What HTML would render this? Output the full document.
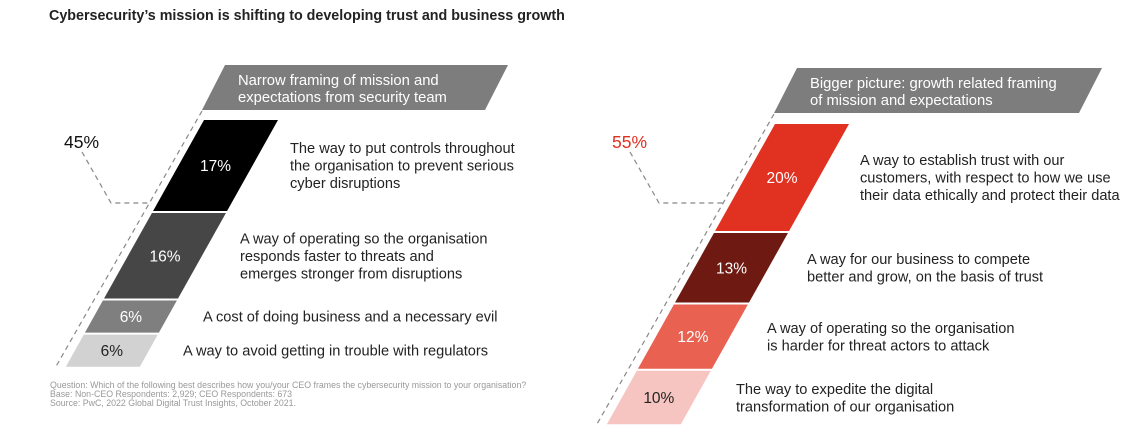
<!DOCTYPE html>
<html><head><meta charset="utf-8"><style>
body{margin:0;background:#fff;width:1143px;height:442px;overflow:hidden}
svg{display:block;font-family:"Liberation Sans",Arial,sans-serif}
</style></head><body>
<svg id="c" width="1143" height="442">
<text x="49" y="20" font-size="14.3" font-weight="bold" fill="#222">Cybersecurity’s mission is shifting to developing trust and business growth</text>
<g fill="#999" font-size="8.8">
<text x="50" y="388">Question: Which of the following best describes how you/your CEO frames the cybersecurity mission to your organisation?</text>
<text x="50" y="397">Base: Non-CEO Respondents: 2,929; CEO Respondents: 673</text>
<text x="50" y="406">Source: PwC, 2022 Global Digital Trust Insights, October 2021.</text>
</g>
</svg>
<script>
const leftValues=[17,16,6,6];
const leftLabels=["17%","16%","6%","6%"];
const leftTotal="45%";
const leftTexts=[["The way to put controls throughout","the organisation to prevent serious","cyber disruptions"],["A way of operating so the organisation","responds faster to threats and","emerges stronger from disruptions"],["A cost of doing business and a necessary evil"],["A way to avoid getting in trouble with regulators"]];
const rightValues=[20,13,12,10];
const rightLabels=["20%","13%","12%","10%"];
const rightTotal="55%";
const rightTexts=[["A way to establish trust with our","customers, with respect to how we use","their data ethically and protect their data"],["A way for our business to compete","better and grow, on the basis of trust"],["A way of operating so the organisation","is harder for threat actors to attack"],["The way to expedite the digital","transformation of our organisation"]];

const svg=document.getElementById('c');
const NS='http://www.w3.org/2000/svg';
function mk(t,a){const e=document.createElementNS(NS,t);for(const k in a)e.setAttribute(k,a[k]);svg.appendChild(e);return e;}
const S=0.56, PX=5.35, W=74, GAP=2;
function drawPanel(cfg){
  const b=mk('polygon',{points:`${cfg.bx+23},${cfg.by} ${cfg.bx+23+cfg.bw},${cfg.by} ${cfg.bx+cfg.bw},${cfg.by+45} ${cfg.bx},${cfg.by+45}`,fill:'#7d7d7d'});
  
  
  cfg.banner.forEach((l,i)=>{const t=mk('text',{x:cfg.bx+36,y:cfg.by+20+i*17,'font-size':14.8,fill:'#fff'});t.textContent=l;
    
    });
  let y=cfg.top;const x0=cfg.x0;let bottom=y;
  cfg.values.forEach((v,i)=>{
    const h=v*PX;const lt=x0-S*(y-cfg.top), lb=x0-S*(y+h-cfg.top);
    const p=mk('polygon',{points:`${lt},${y} ${lt+W},${y} ${lb+W},${y+h} ${lb},${y+h}`,fill:cfg.colors[i]});
    
    
    const cx=(lt+lb)/2+W/2, cy=y+h/2;
    const t=mk('text',{x:cx,y:cy+5.5,'font-size':15.5,'text-anchor':'middle',fill:cfg.tcol[i]});t.textContent=cfg.labels[i];
    
    
    const lines=cfg.texts[i];const n=lines.length;
    lines.forEach((l,j)=>{const tt=mk('text',{x:cfg.tx[i],y:cy+5+(j-(n-1)/2)*17.5,'font-size':14.6,fill:'#222'});tt.textContent=l;
      
      });
    y+=h+GAP;bottom=y;
  });
  const dl=mk('line',{x1:cfg.bx,y1:cfg.by+46,x2:cfg.x0-S*(bottom-cfg.top)-10,y2:bottom,stroke:'#888','stroke-dasharray':'5,4','stroke-width':1.2});
  
  
  const bx=cfg.bx-S*(203-cfg.by-46);
  const br=mk('polyline',{points:`${cfg.lx+18},152 ${cfg.lx+47},203 ${bx},203`,fill:'none',stroke:'#888','stroke-dasharray':'5,4','stroke-width':1.2});
  
  
  const tl=mk('text',{x:cfg.lx,y:148,'font-size':17.5,fill:cfg.totalCol});tl.textContent=cfg.total;
  
  
}
drawPanel({name:'narrow',bx:202,by:65,bw:283,banner:['Narrow framing of mission and','expectations from security team'],
  top:120,x0:204,values:leftValues,labels:leftLabels,texts:leftTexts,total:leftTotal,totalCol:'#111',lx:64,
  colors:['#000000','#464646','#7f7f7f','#d2d2d2'],tcol:['#fff','#fff','#fff','#222'],tx:[290,240,203,183]});
drawPanel({name:'bigger',bx:774,by:68,bw:305,banner:['Bigger picture: growth related framing','of mission and expectations'],
  top:124,x0:775,values:rightValues,labels:rightLabels,texts:rightTexts,total:rightTotal,totalCol:'#e03020',lx:612,
  colors:['#e03121','#6e1911','#e86151','#f7c5c1'],tcol:['#fff','#fff','#fff','#222'],tx:[860,807,767,736]});
</script>
</body></html>
